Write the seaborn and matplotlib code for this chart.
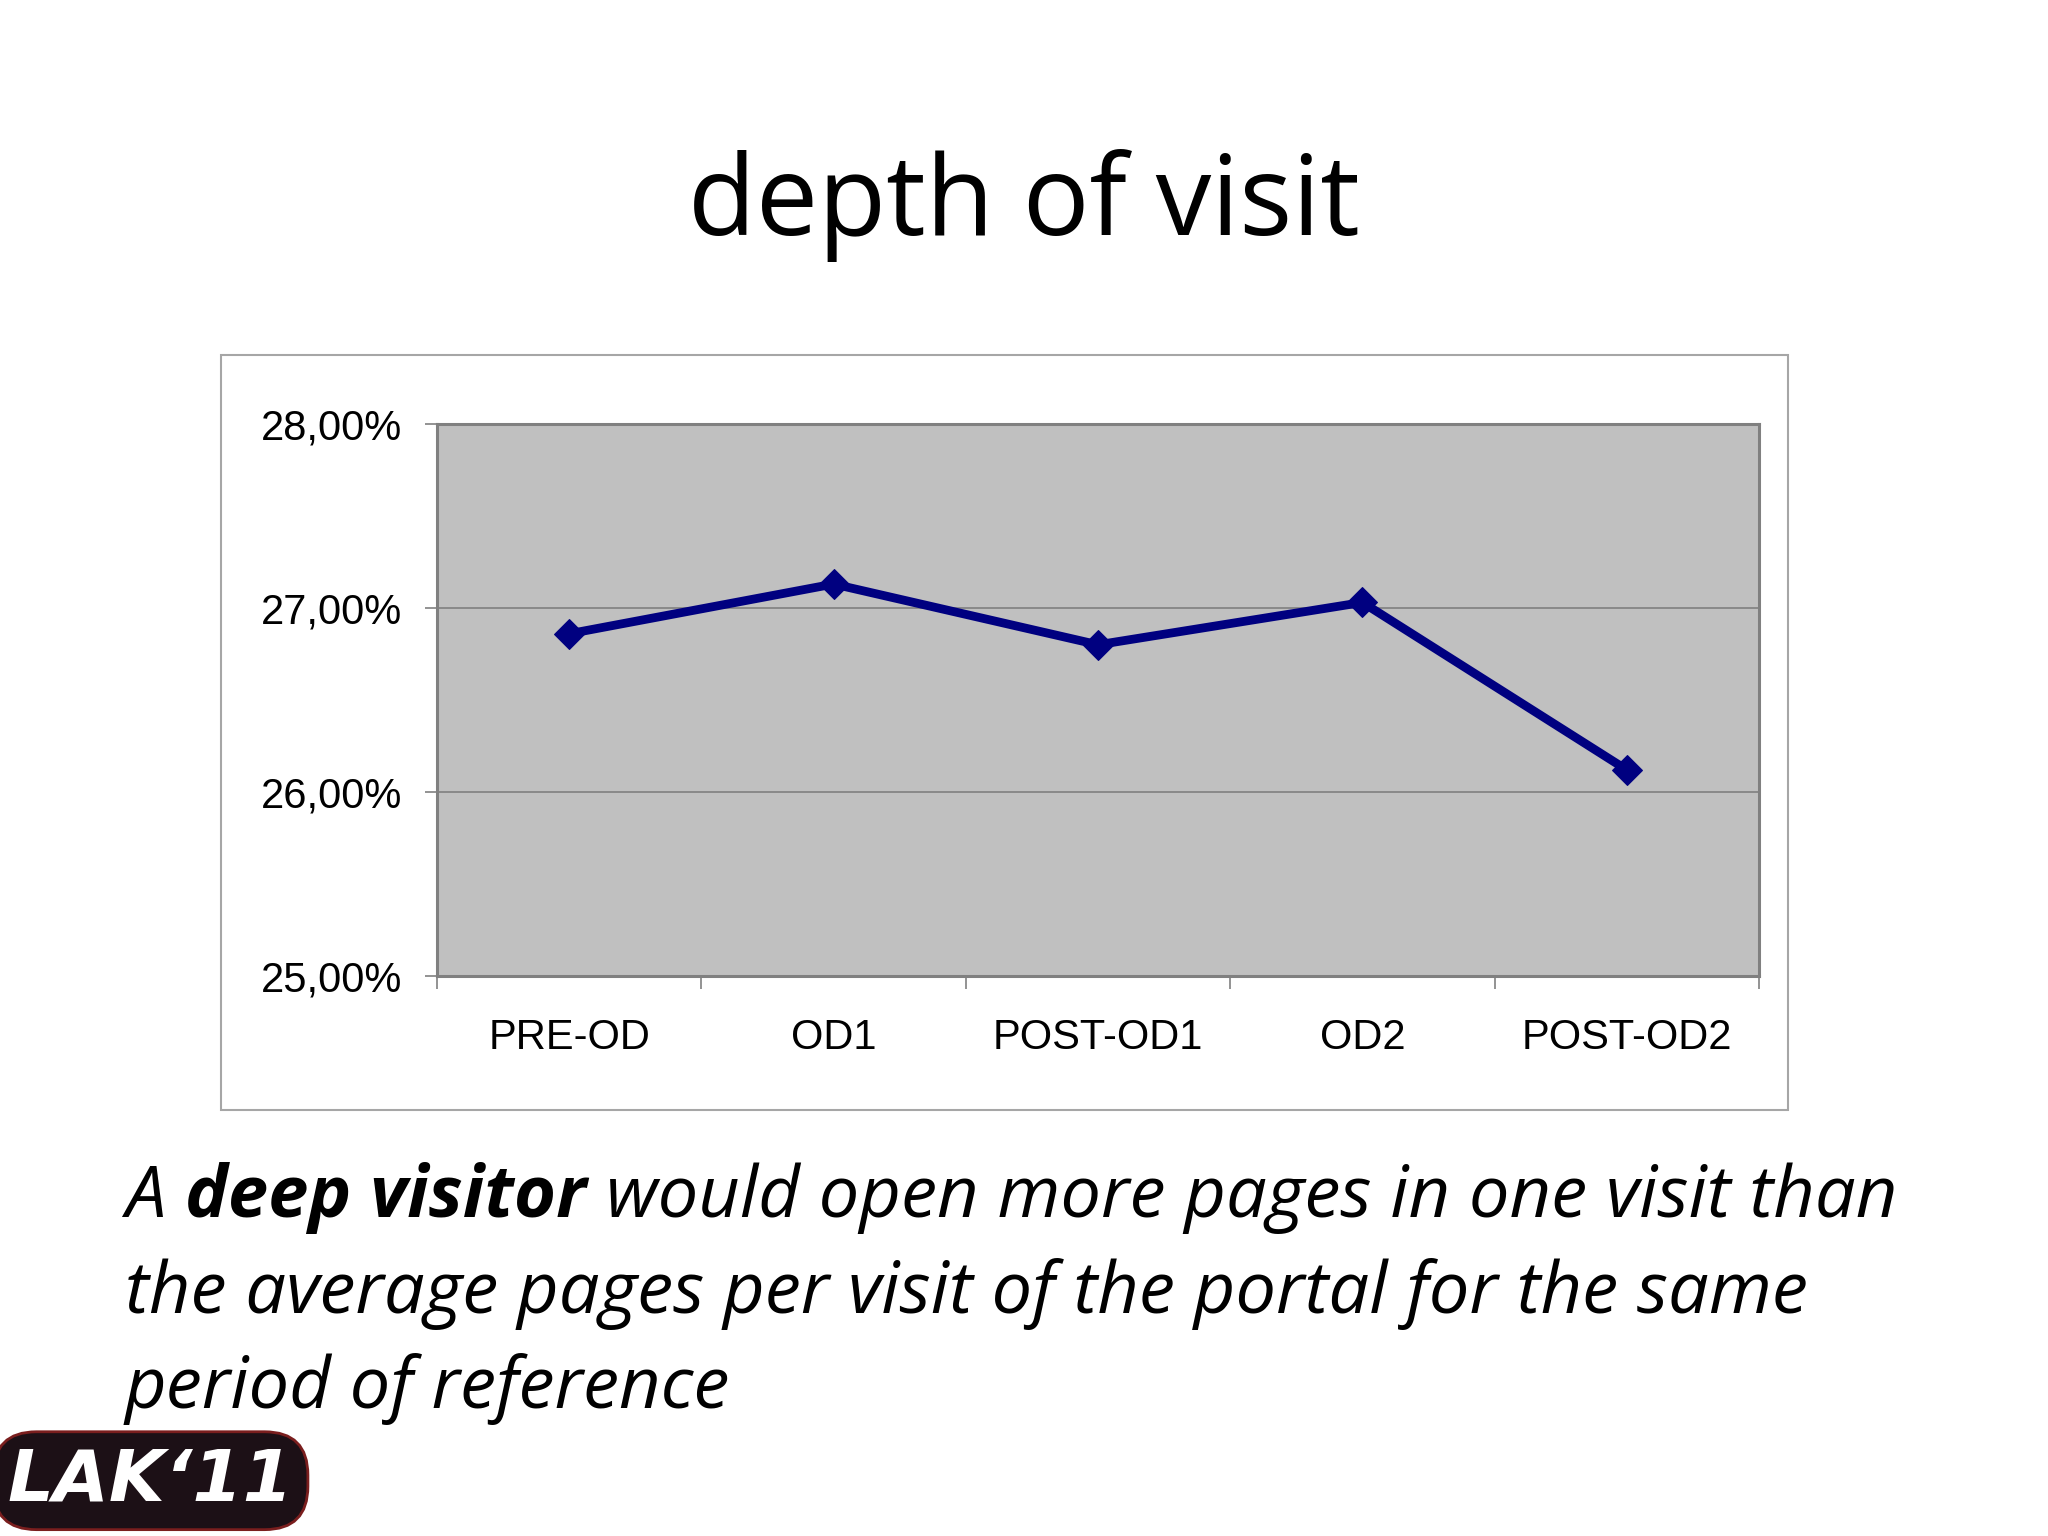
#!/usr/bin/env python3
"""
Depth of visit slide: share of deep visitors per period
"""

import pandas as pd
import matplotlib.pyplot as plt
import seaborn as sns
from matplotlib.patches import Rectangle
from matplotlib.ticker import FuncFormatter, FixedLocator

# Data
periods = ['PRE-OD', 'OD1', 'POST-OD1', 'OD2', 'POST-OD2']
depth_pct = [26.86, 27.13, 26.80, 27.03, 26.12]
y_ticks = [25, 26, 27, 28]

df = pd.DataFrame({'period': periods, 'depth': depth_pct})

sns.set_style('white')
plt.rcParams['font.family'] = ['Liberation Sans', 'DejaVu Sans']
plt.rcParams['text.color'] = 'black'
plt.rcParams['xtick.color'] = 'black'
plt.rcParams['ytick.color'] = 'black'

fig = plt.figure(figsize=(20.48, 15.36), dpi=100)
fig.patch.set_facecolor('white')

# Outer chart frame
fig.patches.append(Rectangle((0.1079, 0.2773), 0.7651, 0.4915, transform=fig.transFigure,
                             facecolor='white', edgecolor='#a6a6a6', linewidth=1.5, zorder=-5))

ax = fig.add_axes([0.2134, 0.3646, 0.6455, 0.3594])
ax.set_zorder(2)
ax.set_facecolor('#c0c0c0')

sns.lineplot(data=df, x='period', y='depth', sort=False, ax=ax,
             color='#000080', linewidth=6.3, marker='D', markersize=15,
             markeredgecolor='#000080', zorder=3)

ax.set_xlim(-0.5, len(periods) - 0.5)
ax.set_ylim(min(y_ticks), max(y_ticks))
ax.set_yticks(y_ticks)
ax.yaxis.set_major_formatter(FuncFormatter(lambda v, _: f'{v:.2f}'.replace('.', ',') + '%'))
ax.grid(axis='y', color='#808080', linewidth=1.2)
ax.set_axisbelow(True)

# Excel-style ticks between categories
ax.xaxis.set_minor_locator(FixedLocator([i - 0.5 for i in range(len(periods) + 1)]))
ax.tick_params(axis='x', which='major', length=0, pad=30, labelsize=30)
ax.tick_params(axis='x', which='minor', length=9, width=1.2, color='#808080',
               direction='out', bottom=True)
ax.tick_params(axis='y', which='major', length=9, width=1.2, color='#808080',
               direction='out', pad=16, labelsize=30, left=True)
ax.set_xlabel('')
ax.set_ylabel('')
for side in ['left', 'bottom', 'top', 'right']:
    ax.spines[side].set_visible(True)
    ax.spines[side].set_color('#808080')
    ax.spines[side].set_linewidth(2.2)

# Slide title
fig.text(0.5, 0.847, 'depth of visit', ha='center', va='baseline', color='black',
         fontsize=80, family=['Open Sans', 'DejaVu Sans'])

# Caption with a bold phrase
tax = fig.add_axes([0, 0, 1, 1])
tax.axis('off')
tax.set_zorder(5)
body = dict(fontsize=52, style='italic', color='black',
            family=['Open Sans', 'DejaVu Sans'], va='baseline')
t1 = tax.text(0.061, 1 - 1217 / 1536, 'A', **body)
t2 = tax.annotate('deep visitor', xy=(1, 0), xycoords=t1, xytext=(14, 0),
                  textcoords='offset points', fontweight='bold', **{**body, 'va': 'bottom'})
tax.annotate('would open more pages in one visit than', xy=(1, 0), xycoords=t2,
             xytext=(14, 0), textcoords='offset points', **{**body, 'va': 'bottom'})
tax.text(0.061, 1 - 1313 / 1536, 'the average pages per visit of the portal for the same', **body)
tax.text(0.061, 1 - 1408 / 1536, 'period of reference', **body)

# Conference badge
tax.text(0.0735, 0.036, 'LAK\u201811', ha='center', va='center', color='white',
         fontsize=52, fontweight='bold', style='italic', family=['DejaVu Sans'],
         bbox=dict(boxstyle='round,pad=0.2,rounding_size=0.6', facecolor='#1c1016',
                   edgecolor='#7a1e1e', linewidth=2))

fig.savefig('out.png', dpi=100)
plt.close(fig)
